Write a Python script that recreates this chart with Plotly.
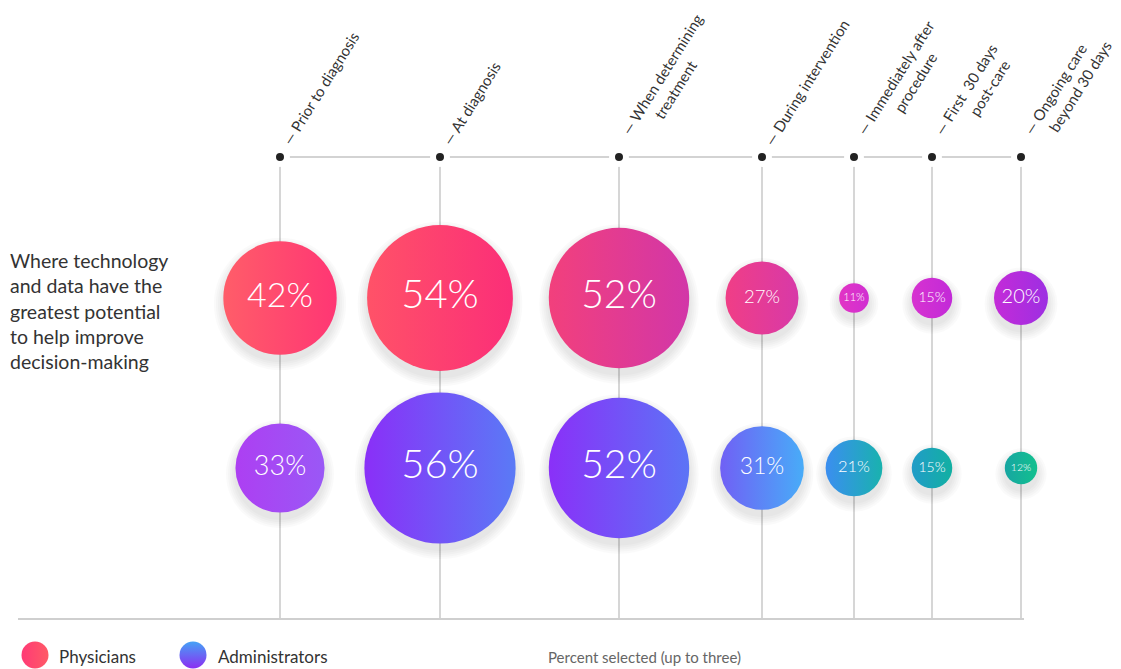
import plotly.graph_objects as go

# ---------------- data ----------------
stages = ["Prior to diagnosis", "At diagnosis", "When determining treatment",
          "During intervention", "Immediately after procedure",
          "First 30 days post-care", "Ongoing care beyond 30 days"]
NB = "\u00a0"
stage_labels = ["— Prior to diagnosis", "— At diagnosis",
                "— When determining<br>" + NB * 8 + "treatment",
                "— During intervention",
                "— Immediately after<br>" + NB * 10 + "procedure",
                "— First  30 days<br>" + NB * 9 + "post-care",
                "— Ongoing care<br>" + NB * 4 + "beyond 30 days"]
physicians = [42, 54, 52, 27, 11, 15, 20]
administrators = [33, 56, 52, 31, 21, 15, 12]
row_title = "Where technology<br>and data have the<br>greatest potential<br>to help improve<br>decision-making"
axis_note = "Percent selected (up to three)"

# ---------------- layout / style constants ----------------
W, H = 1121, 669
OFF = 8  # default page body margin offset
STAGE_X = [280, 440, 619, 762, 854, 932, 1021]
ROW_Y = {"Physicians": 298, "Administrators": 468}
TIMELINE_Y = 157
BASE_Y = 619
PX_PER_PCT = 2.7
FONT = "Lato"
LIGHT_FONT = "Lato Light, Open Sans Light, Lato"

phys_left = ["#ff5d69", "#ff5268", "#f2407c", "#f03e86", "#e234c4", "#d733d0", "#c42bd8"]
phys_right = ["#ff3674", "#fb2e78", "#d236a8", "#d839a8", "#d02fd2", "#c22ad8", "#9d2fe2"]
admin_left = ["#ad3ff2", "#8a2ff8", "#8a30f8", "#7060f5", "#3b8ef0", "#219cc8", "#17a6a2"]
admin_right = ["#9a58f6", "#5a7af6", "#5c74f6", "#48acf8", "#19b2ae", "#12b0a2", "#12c08e"]
phys_fs = [34, 40, 39, 18.5, 11, 14, 20]
admin_fs = [27, 40, 39, 23, 16.5, 14, 10.5]

fig = go.Figure()

# timeline horizontal line
fig.add_trace(go.Scatter(x=[STAGE_X[0], STAGE_X[-1]], y=[TIMELINE_Y, TIMELINE_Y],
                         mode="lines", line=dict(color="#c4c4c4", width=1.5),
                         hoverinfo="skip"))
# vertical stage lines
vx, vy = [], []
for x in STAGE_X:
    vx += [x, x, None]
    vy += [TIMELINE_Y, BASE_Y, None]
fig.add_trace(go.Scatter(x=vx, y=vy, mode="lines",
                         line=dict(color="#c8c8c8", width=1.5), hoverinfo="skip"))
# baseline
fig.add_trace(go.Scatter(x=[18, STAGE_X[-1] + 3], y=[BASE_Y, BASE_Y], mode="lines",
                         line=dict(color="#cfcfcf", width=2), hoverinfo="skip"))
# timeline dots
fig.add_trace(go.Scatter(x=STAGE_X, y=[TIMELINE_Y] * len(STAGE_X), mode="markers",
                         marker=dict(size=14, color="#222222",
                                     line=dict(color="white", width=6)),
                         hoverinfo="skip"))

# bubbles with shadows
for name, vals, left, right, fs in [
        ("Physicians", physicians, phys_left, phys_right, phys_fs),
        ("Administrators", administrators, admin_left, admin_right, admin_fs)]:
    y0 = ROW_Y[name]
    diam = [v * PX_PER_PCT for v in vals]
    for k in range(5):
        fig.add_trace(go.Scatter(
            x=STAGE_X, y=[y0 + 6] * len(vals), mode="markers",
            marker=dict(size=[d + 3 + 4 * k for d in diam], color="rgba(0,0,0,0.028)",
                        line=dict(width=0)),
            hoverinfo="skip"))
    fig.add_trace(go.Scatter(
        x=STAGE_X, y=[y0] * len(vals), mode="markers+text", name=name,
        marker=dict(size=vals, sizemode="diameter", sizeref=1 / PX_PER_PCT,
                    color=left, gradient=dict(type="horizontal", color=right),
                    line=dict(width=0), opacity=1),
        text=[f"{v}%" for v in vals], textposition="middle center",
        textfont=dict(family=LIGHT_FONT, color="white", size=fs, weight=300),
        customdata=stages,
        hovertemplate="%{customdata}<br>" + name + ": %{text}<extra></extra>"))

# legend markers
fig.add_trace(go.Scatter(x=[35], y=[655], mode="markers",
                         marker=dict(size=27, color="#ff3a76",
                                     gradient=dict(type="horizontal", color="#ff5a66")),
                         hoverinfo="skip"))
fig.add_trace(go.Scatter(x=[193], y=[655], mode="markers",
                         marker=dict(size=27, color="#45a2f6",
                                     gradient=dict(type="vertical", color="#8c2ef2")),
                         hoverinfo="skip"))

annotations = []
for x, lab in zip(STAGE_X, stage_labels):
    annotations.append(dict(x=x - 4, y=TIMELINE_Y - 6, text=lab, showarrow=False,
                            xanchor="left", yanchor="bottom", textangle=-58,
                            align="left",
                            font=dict(family=FONT, size=15, color="#333333")))
annotations.append(dict(x=8, y=247, text=row_title, showarrow=False, xanchor="left",
                        yanchor="top", align="left",
                        font=dict(family=FONT, size=19.5, color="#333333")))
annotations.append(dict(x=57, y=656, text="Physicians", showarrow=False, xanchor="left",
                        yanchor="middle", font=dict(family=FONT, size=17, color="#333333")))
annotations.append(dict(x=216, y=656, text="Administrators", showarrow=False,
                        xanchor="left", yanchor="middle",
                        font=dict(family=FONT, size=17, color="#333333")))
annotations.append(dict(x=546, y=657, text=axis_note, showarrow=False, xanchor="left",
                        yanchor="middle", font=dict(family=FONT, size=15, color="#666666")))

fig.update_layout(
    width=W, height=H, margin=dict(l=0, r=0, t=0, b=0),
    paper_bgcolor="white", plot_bgcolor="white", showlegend=False,
    xaxis=dict(range=[OFF, W + OFF], visible=False, fixedrange=True),
    yaxis=dict(range=[H + OFF, OFF], visible=False, fixedrange=True),
    annotations=annotations,
)

fig.write_html("out.html")
